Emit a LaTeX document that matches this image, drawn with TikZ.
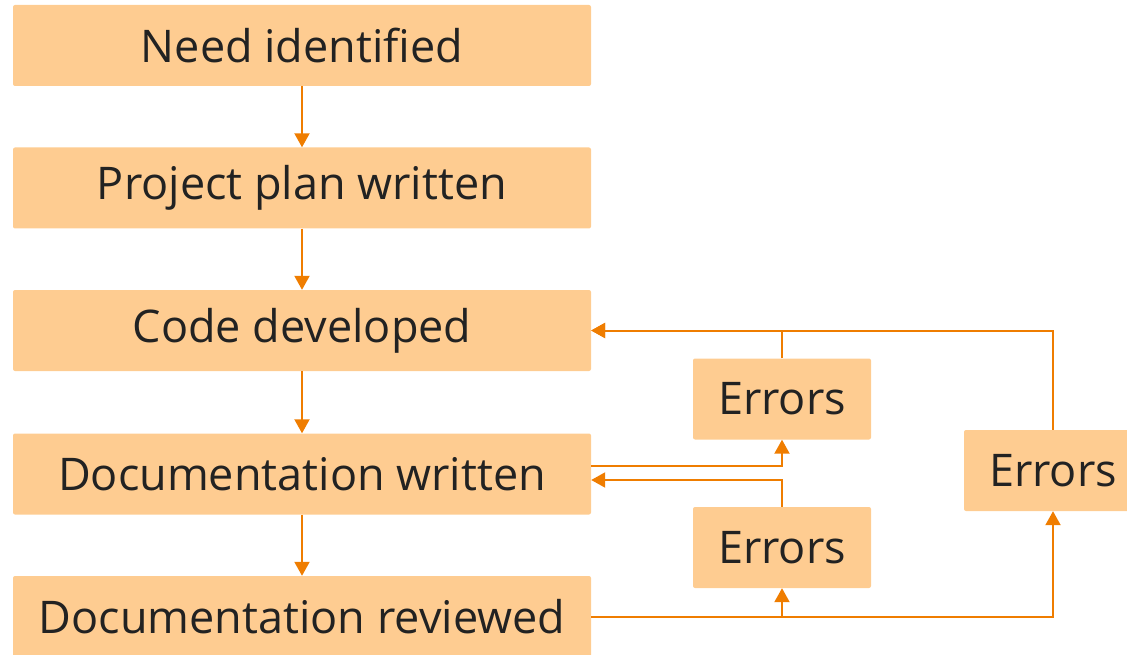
\documentclass[tikz,border=0pt]{standalone}
\usepackage{fontspec}
\setmainfont{Open Sans}
\usetikzlibrary{arrows.meta}
\definecolor{boxfill}{HTML}{FECC91}
\definecolor{flow}{HTML}{EF7D00}
\definecolor{ink}{HTML}{222222}

\begin{document}
\begin{tikzpicture}[x=1pt,y=-1pt,
  stage/.style={fill=boxfill,rounded corners=2pt,minimum width=578pt,minimum height=81pt,
    inner sep=0pt,text=ink,font=\fontsize{45}{50}\selectfont},
  errbox/.style={stage,minimum width=178pt},
  link/.style={draw=flow,line width=2pt,-{Triangle[length=14pt,width=15pt]}}]
\useasboundingbox (0,0) rectangle (1127,655);

% main chain
\node[stage] (need) at (302,45.5) {Need identified};
\node[stage] (plan) at (302,188) {Project plan written};
\node[stage] (code) at (302,330.5) {Code developed};
\node[stage] (docw) at (302,474) {Documentation written};
\node[stage] (docr) at (302,616.5) {Documentation reviewed};

% error loops
\node[errbox] (errA) at (782,399) {Errors};
\node[errbox] (errB) at (782,547.5) {Errors};
\node[errbox] (errC) at (1053,470.5) {Errors};

\draw[link] (need) -- (plan);
\draw[link] (plan) -- (code);
\draw[link] (code) -- (docw);
\draw[link] (docw) -- (docr);

\draw[link] ([yshift=8pt]docw.east) -| (errA);
\draw[link] (errA) |- (code);
\draw[link] (errB) |- ([yshift=-6pt]docw.east);
\draw[link] (docr) -| (errC);
\draw[link] (docr.east -| errB) -- (errB);
\draw[link] (errC) |- (code);
\end{tikzpicture}
\end{document}
